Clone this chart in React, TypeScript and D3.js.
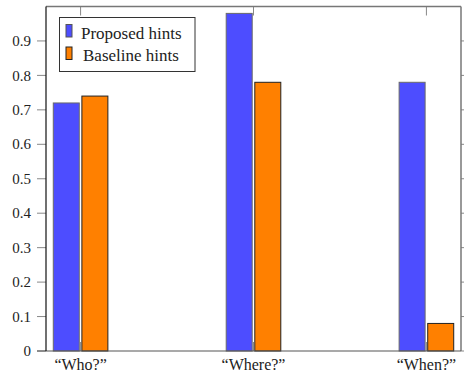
import React from "react";
import * as d3 from "d3";

const categories = ["“Who?”", "“Where?”", "“When?”"];
const proposed = [0.72, 0.98, 0.78];
const baseline = [0.74, 0.78, 0.08];
const yTicks = [0, 0.1, 0.2, 0.3, 0.4, 0.5, 0.6, 0.7, 0.8, 0.9];
const seriesNames = ["Proposed hints", "Baseline hints"];

const W = 464, H = 373;
const L = 46, R = 461, T = 6.5, B = 351;
const BLUE = "#4d4dff", ORANGE = "#ff8000";
const FONT = "Liberation Serif, serif";

export default function App() {
  const x = d3.scaleLinear().domain([-0.2, 2.2]).range([L, R]);
  const y = d3.scaleLinear().domain([0, 1.0]).range([B, T]);
  const bw = 26, gap = 1.3;
  return (
    <svg width={W} height={H} style={{ position: "absolute", left: 0, top: 0, fontFamily: FONT }}>
      <rect x={0} y={0} width={W} height={H} fill="#fff" />
      {categories.map((c, i) => (
        <g key={"xt" + i} stroke="#888" strokeWidth={1}>
          <line x1={x(i)} x2={x(i)} y1={T} y2={T + 9} />
          <line x1={x(i)} x2={x(i)} y1={B} y2={B - 9} />
        </g>
      ))}
      {proposed.map((v, i) => (
        <rect key={"p" + i} x={x(i) - gap - bw} y={y(v)} width={bw} height={y(0) - y(v)}
          fill={BLUE} stroke="#6a6a6a" strokeWidth={1} />
      ))}
      {baseline.map((v, i) => (
        <rect key={"b" + i} x={x(i) + gap} y={y(v)} width={bw} height={y(0) - y(v)}
          fill={ORANGE} stroke="#222" strokeWidth={1} />
      ))}
      {yTicks.map((t) => (
        <g key={"yt" + t}>
          <line x1={L - 9} x2={L} y1={y(t)} y2={y(t)} stroke="#888" />
          <line x1={R} x2={R + 3} y1={y(t)} y2={y(t)} stroke="#888" />
          <text x={31} y={y(t)} dy="0.34em" textAnchor="end" style={{ fontSize: "15px" }} fill="#222">
            {d3.format("")(t)}
          </text>
        </g>
      ))}
      <line x1={L} x2={R} y1={T} y2={T} stroke="#777" strokeWidth={1.5} />
      <line x1={R} x2={R} y1={T} y2={B} stroke="#777" strokeWidth={1.5} />
      <line x1={L - 9} x2={R} y1={B} y2={B} stroke="#555" strokeWidth={1.2} />
      <line x1={L} x2={L} y1={T} y2={B} stroke="#111" strokeWidth={1.2} />
      {categories.map((c, i) => (
        <text key={"c" + i} x={x(i)} y={370} textAnchor="middle" style={{ fontSize: "16px" }} fill="#222">{c}</text>
      ))}
      <rect x={59.5} y={17.5} width={135.5} height={54} fill="#fff" stroke="#333" strokeWidth={1} />
      <rect x={66} y={24.5} width={6} height={12.5} fill={BLUE} stroke="#555" strokeWidth={1} />
      <rect x={66} y={47} width={6} height={12.5} fill={ORANGE} stroke="#222" strokeWidth={1} />
      <text x={81} y={38.5} style={{ fontSize: "17px" }} fill="#222">{seriesNames[0]}</text>
      <text x={83} y={60.5} style={{ fontSize: "17px" }} fill="#222">{seriesNames[1]}</text>
    </svg>
  );
}
